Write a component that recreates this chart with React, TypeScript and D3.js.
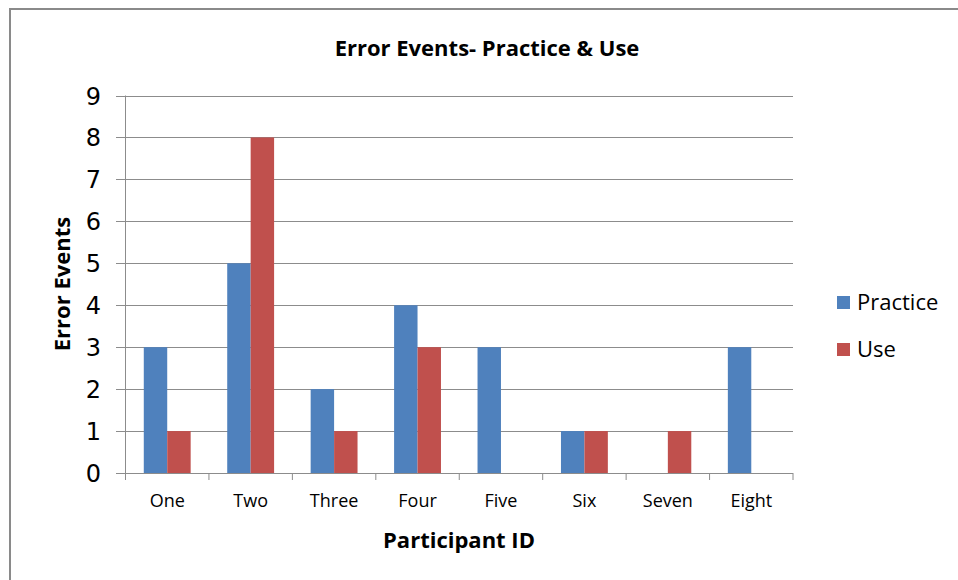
import React from "react";
import * as d3 from "d3";

const categories = ["One", "Two", "Three", "Four", "Five", "Six", "Seven", "Eight"];
const practice = [3, 5, 2, 4, 3, 1, 0, 3];
const use = [1, 8, 1, 3, 0, 1, 1, 0];
const yTicks = [0, 1, 2, 3, 4, 5, 6, 7, 8, 9];
const seriesNames = ["Practice", "Use"];
const colors = ["#4F81BD", "#C0504D"];

const W = 958;
const H = 580;
const left = 125.5;
const right = 793;
const top = 95.5;
const bottom = 473;

export default function App() {
  const x = d3.scaleBand<string>().domain(categories).range([left, right]).paddingInner(0).paddingOuter(0);
  const y = d3.scaleLinear().domain([0, 9]).range([bottom, top]);
  const step = x.step();
  const barW = step / (2 + 1.56);
  const inner = d3.scaleBand<string>().domain(seriesNames).range([0, barW * 2]);
  const offset = (step - barW * 2) / 2;
  const series = [practice, use];
  const fontCal = "'Open Sans', Lato, 'Liberation Sans', sans-serif";

  return (
    <svg width={W} height={H} style={{ position: "absolute", left: 0, top: 0, background: "#fff" }}>
      <rect x={0} y={0} width={W} height={H} fill="#fff" />
      <line x1={9} y1={9} x2={W} y2={9} stroke="#8a8a8a" strokeWidth={2} />
      <line x1={10} y1={8} x2={10} y2={H} stroke="#8a8a8a" strokeWidth={2} />
      <text x={487} y={56} textAnchor="middle" fontFamily={fontCal} fontWeight="bold" fontSize={22} fill="#000">
        Error Events- Practice &amp; Use
      </text>
      {yTicks.map((t) => (
        <g key={t}>
          <line x1={116} x2={right} y1={Math.round(y(t)) + 0.5} y2={Math.round(y(t)) + 0.5} stroke="#8c8c8c" strokeWidth={1} />
          <text x={101} y={y(t) + 9} textAnchor="end" fontFamily="'DejaVu Sans', Verdana, sans-serif" fontSize={24} fill="#000">
            {t}
          </text>
        </g>
      ))}
      <line x1={left} x2={left} y1={top} y2={bottom} stroke="#8c8c8c" strokeWidth={1} />
      {categories.map((c, i) => (
        <line key={"tk" + i} x1={x(c)!} x2={x(c)!} y1={bottom} y2={bottom + 7} stroke="#8c8c8c" strokeWidth={1} />
      ))}
      <line x1={right} x2={right} y1={bottom} y2={bottom + 7} stroke="#8c8c8c" strokeWidth={1} />
      {series.map((vals, si) =>
        vals.map((v, i) =>
          v > 0 ? (
            <rect
              key={si + "-" + i}
              x={x(categories[i])! + offset + inner(seriesNames[si])!}
              y={y(v)}
              width={inner.bandwidth()}
              height={y(0) - y(v)}
              fill={colors[si]}
            />
          ) : null
        )
      )}
      {categories.map((c) => (
        <text key={c} x={x(c)! + step / 2} y={507} textAnchor="middle" fontFamily={fontCal} fontSize={18} fill="#000">
          {c}
        </text>
      ))}
      <text x={459} y={548} textAnchor="middle" fontFamily={fontCal} fontWeight="bold" fontSize={22} fill="#000">
        Participant ID
      </text>
      <text
        transform={`translate(70,${284}) rotate(-90)`}
        textAnchor="middle"
        fontFamily={fontCal}
        fontWeight="bold"
        fontSize={22}
        fill="#000"
      >
        Error Events
      </text>
      {seriesNames.map((s, i) => (
        <g key={s} transform={`translate(837,${296 + i * 47})`}>
          <rect x={0} y={0} width={13} height={13} fill={colors[i]} />
          <text x={20} y={14} fontFamily={fontCal} fontSize={22} fill="#000">
            {s}
          </text>
        </g>
      ))}
    </svg>
  );
}
